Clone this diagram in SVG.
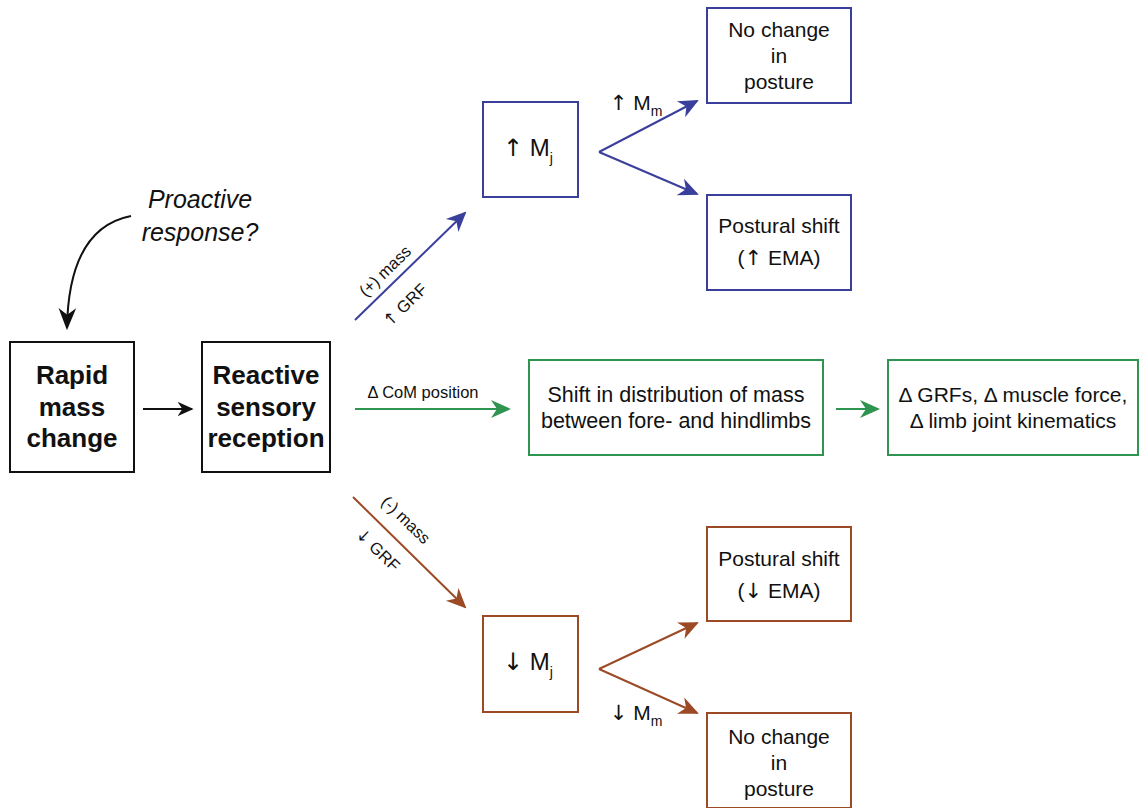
<svg xmlns="http://www.w3.org/2000/svg" width="1139" height="808" viewBox="0 0 1139 808">
<defs>
<style>
text{font-family:"Liberation Sans",Arial,sans-serif;fill:#111;text-anchor:middle}
.b{font-weight:bold;font-size:26px}
.n{font-size:21px}
.s{font-size:16.5px}
.a{font-family:"DejaVu Sans",sans-serif}
.box{fill:#fff;stroke-width:2}
.k{stroke:#111}
.bl{stroke:#3a3f9b}
.gr{stroke:#2f9450}
.br{stroke:#9c4a26}
.ln{fill:none;stroke-width:2}
</style>
<marker id="mk" viewBox="0 0 10 10" refX="9" refY="5" markerWidth="16" markerHeight="16" markerUnits="userSpaceOnUse" orient="auto"><path d="M0,0.5 L10,5 L0,9.5 L3,5 Z" fill="#111"/></marker>
<marker id="mk2" viewBox="0 0 10 10" refX="9" refY="5" markerWidth="22" markerHeight="22" markerUnits="userSpaceOnUse" orient="auto"><path d="M0,1 L10,5 L0,9 L3,5 Z" fill="#111"/></marker>
<marker id="mb" viewBox="0 0 10 10" refX="9" refY="5" markerWidth="10" markerHeight="10" orient="auto"><path d="M0,0.5 L10,5 L0,9.5 L3,5 Z" fill="#3a3f9b"/></marker>
<marker id="mg" viewBox="0 0 10 10" refX="9" refY="5" markerWidth="10" markerHeight="10" orient="auto"><path d="M0,0.5 L10,5 L0,9.5 L3,5 Z" fill="#2f9450"/></marker>
<marker id="mr" viewBox="0 0 10 10" refX="9" refY="5" markerWidth="10" markerHeight="10" orient="auto"><path d="M0,0.5 L10,5 L0,9.5 L3,5 Z" fill="#9c4a26"/></marker>
</defs>
<rect width="1139" height="808" fill="#fff"/>

<g id="connectors">
<path class="ln k" d="M143,409 L192,409" marker-end="url(#mk)"/>
<path class="ln k" d="M131,216 C85,225 68,270 67,328" marker-end="url(#mk2)"/>
<path class="ln bl" d="M355,320 L465,213" marker-end="url(#mb)"/>
<path class="ln gr" d="M355,409 L509,409" marker-end="url(#mg)"/>
<path class="ln gr" d="M836,409 L878,409" marker-end="url(#mg)"/>
<path class="ln br" d="M353,497 L465,607" marker-end="url(#mr)"/>
<path class="ln bl" d="M599,152 L697,194" marker-end="url(#mb)"/>
<path class="ln bl" d="M599,152 L697,101" marker-end="url(#mb)"/>
<path class="ln br" d="M599,669 L697,623" marker-end="url(#mr)"/>
<path class="ln br" d="M599,669 L697,713" marker-end="url(#mr)"/>
<text class="s" transform="translate(389,275) rotate(-44)">(+) mass</text>
<text class="s" transform="translate(409,309) rotate(-44)"><tspan class="a">↑</tspan> GRF</text>
<text class="s" transform="translate(402,524) rotate(44)">(-) mass</text>
<text class="s" transform="translate(374,554) rotate(44)"><tspan class="a">↓</tspan> GRF</text>
<text x="423" y="398" style="font-size:16.5px">Δ CoM position</text>
<text x="636" y="110" style="font-size:21px"><tspan class="a">↑</tspan> M<tspan dy="6" font-size="14">m</tspan></text>
<text x="636" y="720" style="font-size:21px"><tspan class="a">↓</tspan> M<tspan dy="6" font-size="14">m</tspan></text>
<text x="200" y="208" style="font-size:25px;font-style:italic">Proactive</text>
<text x="200" y="241" style="font-size:25px;font-style:italic">response?</text>
</g>

<g id="rapid">
<rect class="box k" x="10" y="342" width="124" height="130"/>
<text class="b" x="72" y="384">Rapid</text>
<text class="b" x="72" y="416">mass</text>
<text class="b" x="72" y="447">change</text>
</g>
<g id="reactive">
<rect class="box k" x="202" y="342" width="128" height="130"/>
<text class="b" x="266" y="384">Reactive</text>
<text class="b" x="266" y="416">sensory</text>
<text class="b" x="266" y="447">reception</text>
</g>
<g id="mj-up">
<rect class="box bl" x="483" y="102" width="95" height="95"/>
<text x="528" y="156" style="font-size:24px"><tspan class="a">↑</tspan> M<tspan dy="7" font-size="14">j</tspan></text>
</g>
<g id="nochange-top">
<rect class="box bl" x="707" y="8" width="144" height="95"/>
<text class="n" x="779" y="37">No change</text>
<text class="n" x="779" y="63">in</text>
<text class="n" x="779" y="89">posture</text>
</g>
<g id="shift-up">
<rect class="box bl" x="707" y="195" width="144" height="95"/>
<text class="n" x="779" y="233">Postural shift</text>
<text class="n" x="779" y="265">(<tspan class="a">↑</tspan> EMA)</text>
</g>
<g id="shift-dist">
<rect class="box gr" x="529" y="360" width="294" height="95"/>
<text class="n" x="676" y="402" style="font-size:21.5px">Shift in distribution of mass</text>
<text class="n" x="676" y="428" style="font-size:21.5px">between fore- and hindlimbs</text>
</g>
<g id="grfs">
<rect class="box gr" x="888" y="360" width="250" height="95"/>
<text class="n" x="1013" y="402">Δ GRFs, Δ muscle force,</text>
<text class="n" x="1013" y="428">Δ limb joint kinematics</text>
</g>
<g id="shift-down">
<rect class="box br" x="707" y="527" width="144" height="94"/>
<text class="n" x="779" y="566">Postural shift</text>
<text class="n" x="779" y="598">(<tspan class="a">↓</tspan> EMA)</text>
</g>
<g id="mj-down">
<rect class="box br" x="483" y="616" width="95" height="96"/>
<text x="528" y="670" style="font-size:24px"><tspan class="a">↓</tspan> M<tspan dy="7" font-size="14">j</tspan></text>
</g>
<g id="nochange-bottom">
<rect class="box br" x="707" y="713" width="144" height="95"/>
<text class="n" x="779" y="744">No change</text>
<text class="n" x="779" y="770">in</text>
<text class="n" x="779" y="796">posture</text>
</g>
</svg>
